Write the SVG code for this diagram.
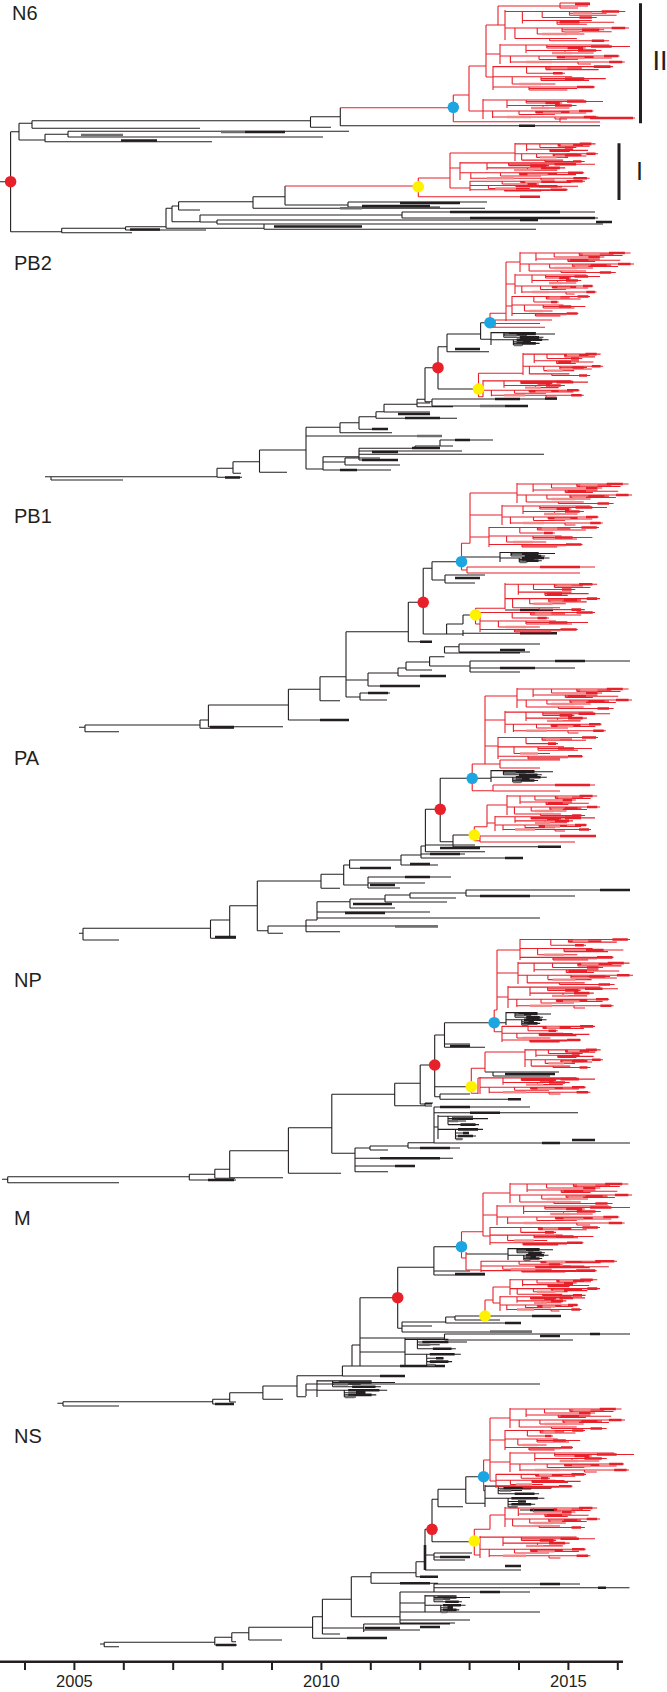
<svg xmlns="http://www.w3.org/2000/svg" width="667" height="1692" viewBox="0 0 667 1692">
<style>
.k{fill:none;stroke:#231f20;stroke-width:1.1;vector-effect:non-scaling-stroke}
.kt{fill:none;stroke:#231f20;stroke-width:2.6;vector-effect:non-scaling-stroke}
.gt{fill:none;stroke:#6d6d6d;stroke-width:2.6;vector-effect:non-scaling-stroke}
.r{fill:none;stroke:#e8202a;stroke-width:1.1;vector-effect:non-scaling-stroke}
.rt{fill:none;stroke:#e8202a;stroke-width:2.6;vector-effect:non-scaling-stroke}
.rp{fill:none;stroke:#f28a8a;stroke-width:2.4;vector-effect:non-scaling-stroke}
.lbl{font-family:"Liberation Sans",Arial,sans-serif;font-size:20px;fill:#231f20}
.yr{font-family:"Liberation Sans",Arial,sans-serif;font-size:16.5px;fill:#231f20;text-anchor:middle}
.dr{fill:#e8202a}.db{fill:#1ba6e1}.dy{fill:#fff200}
</style>
<defs>
<g id="RA">
<path class="r" d="M0 0V20M0 1H14V9M14 1H30V5M30 1H52V3.5M52 1H97M52 2.2H82M52 3.5H90M30 5H74M14 7H42V9.5M42 7H70M42 8.2H88M42 9.5H66M0 12H8V19M8 12H26V16M26 12H46V14.5M46 12H100M46 13.2H80M46 14.5H86M26 16H64M8 19H36V20.5M36 19H58M36 20.5H84"/>
<path class="rt" d="M78 1H92M62 13.2H76M70 20.5H80M86 12H97M44 8.2H60M60 5H70"/>
<path class="rp" d="M55 2.2H70M48 14.5H60M30 16H50"/>
</g>
<g id="RB">
<path class="r" d="M0 0V20M0 1H20V9M20 1H36V4M36 1H84M36 2.5H100M36 4H66M20 6.5H50V9M50 6.5H78M50 9H72M0 12H8V19M8 12H30V15.5M30 12H44V14M44 12H92M44 13H72M44 14H86M30 15.5H60M8 18H60V20M60 18H96M60 20H70"/>
<path class="rt" d="M70 2.5H86M80 12H91M52 4H64M84 18H94M60 6.5H74"/>
<path class="rp" d="M40 9H55M50 14H65M20 18H40"/>
</g>
<g id="RC">
<path class="r" d="M0 0V20M0 0.5H28V6M28 0.5H44V3M44 0.5H100M44 1.8H74M44 3H88M28 6H60M0 9H16V15M16 9H40V12M40 9H66M40 10.5H94M40 12H80M16 15H52M0 17.5H30V20M30 17.5H85M30 18.8H70M30 20H62"/>
<path class="rt" d="M84 0.5H98M60 10.5H76M70 17.5H84M50 6H58"/>
<path class="rp" d="M48 1.8H62M22 15H40"/>
</g>
<g id="KA">
<path class="k" d="M0 0V20M0 1H20V8M20 1H70M20 3H100M20 5H56M20 8H82M0 12H35V20M35 12H90M35 15H62M35 17.5H76M35 20H50"/>
<path class="kt" d="M28 3H70M45 8H75M50 15H62M40 12H80M40 17.5H70"/>
<path class="gt" d="M22 5H40M36 20H48"/>
</g>
</defs>
<rect width="667" height="1692" fill="#fff"/>

<g id="tree-N6">
<text class="lbl" x="12" y="20">N6</text>
<path class="k" d="M0 181.7H10.6M10.6 131.7V231.7M10.6 131.7H19M19 123.3V140M19 123.3H32M32 120.7V128.3M32 120.7H310.5M32 128.3H200M310.5 116.7V127.3M310.5 116.7H340.3M310.5 127.3H331M340.3 107.7V125.7M340.3 125.7H600M19 140H45M45 134.3V141.7M45 141.7H212M45 134.3H68M68 131.3V137M68 131.3H349M68 137H323M10.6 231.7H61.7M61.7 228.3V232.7M61.7 228.3H125.5M61.7 232.7H132M125.5 226.7V230M125.5 226.7H166M125.5 230H206M166 208.3V228.3M166 228.3H264M264 224V229.3M264 224H603M264 229.3H536M166 208.3H172M172 206V221.7M172 206H178.6M178.6 201.7V210M178.6 210H200M178.6 201.7H253M253 196.7V208.3M253 208.3H485M253 196.7H285M285 186V205M285 205H348M348 202V207M348 202H487M348 207H440M172 221.7H200M200 215V222M200 215H402M402 212V218M402 212H595M402 218H598M200 222H217M217 220V224M217 220H538M217 224H300"/>
<path class="kt" d="M121 140.5H157M245 132H285M519 125.7H535M274 226.5H362M596 222H612M362 206H430M400 203H460M450 212H560M470 218H595M520 220H538M130 229.5H160"/>
<path class="gt" d="M81 135H123M221 132H245M340 208.3H362"/>
<path class="r" d="M340.3 107.7H453.3M285 186H418.3M453.3 95V121.7M453.3 121.7H560M560 118V122M560 118H635M560 122H600M453.3 95H469M469 66V111M469 111H483M469 66H486M486 25V77M486 25H505M486 54H500M486 77H493M498 25V6M498 6H560M560 3V8M560 3H590M560 6H588M560 8H578M418.3 178V196.7M418.3 196.7H540M418.3 178H450M450 153V188M450 153H515M450 168H460M450 188H470"/>
<path class="rt" d="M590 118H633M575 4H590M520 196.7H540"/>
<use href="#RB" transform="translate(483 99) scale(1.2 1)"/>
<use href="#RA" transform="translate(505 10) scale(1.24 1.5)"/>
<use href="#RB" transform="translate(500 44) scale(1.3 1)"/>
<use href="#RC" transform="translate(493 66) scale(1.2 1.2)"/>
<use href="#RA" transform="translate(515 143) scale(0.83 0.9)"/>
<use href="#RB" transform="translate(460 162) scale(1.35 0.9)"/>
<use href="#RC" transform="translate(470 181) scale(1.15 0.5)"/>
<path d="M640.5 3.3V123.3M619 143.3V200" fill="none" stroke="#231f20" stroke-width="3"/>
<text x="652.5" y="70" style="font-family:'Liberation Sans',Arial,sans-serif;font-size:27px;fill:#231f20">II</text>
<text x="636" y="180" style="font-family:'Liberation Sans',Arial,sans-serif;font-size:25px;fill:#231f20">I</text>
<circle class="dr" cx="10.6" cy="181.7" r="5.8"/>
<circle class="db" cx="453.3" cy="107.3" r="5.8"/>
<circle class="dy" cx="418.3" cy="186.7" r="5.8"/>
</g>

<g id="tree-PB2">
<text class="lbl" x="14" y="270">PB2</text>
<path class="k" d="M45 476.7H51M51 476.7V480M51 476.7H217M51 480H123M217 468.3V477.3M217 477.3H242M217 468.3H233M233 461.7V473.3M233 473.3H241M233 461.7H259.5M259.5 450V472.3M259.5 472.3H287M259.5 450H306M306 427.3V469M306 436H442M306 469H323M323 456.7V470M323 470H391M323 462H345M345 458V465M345 465H400M345 458H380M323 456.7H359M359 448.3V460M359 448.3H415M359 451H462M359 454.3H544M359 460H398M415 446V448.3M415 446H453M440 440V446M440 440H493M306 427.3H340M340 422.7V432.7M340 432.7H392M340 422.7H359M359 416.7V429.3M359 429.3H388M359 416.7H376M376 411.7V418.3M376 418.3H457M376 411.7H384M384 404.3V412M384 412H430M384 404.3H417M417 399.3V406.7M417 406.7H453M417 403H430M417 399.3H425M425 367.7V401.7M425 401.7H432M432 399V406M432 399H557M432 406H528M425 367.7H438M438 346.7V389M438 346.7H447M447 334V351.7M447 351.7H489M447 334H480.6M480.6 322.7V339.3M480.6 339.3H491M480.6 322.7H490M438 389H478.5"/>
<path class="kt" d="M225 477.5H240M372 452H398M412 448H440M362 460H398M340 470H357M455 440H470M372 429H388M405 418H440M398 414H430M495 399H520M505 406H528M545 398.5H557M455 349H480"/>
<path class="gt" d="M417 436H442M480 406H505"/>
<use href="#KA" transform="translate(491 332) scale(0.64 0.65)"/>
<path class="r" d="M490 313.3V327.3M490 327.3H545M495 320V327.3M495 320H552M495 323.5H540M490 313.3H506M506 262V321M506 262H520M506 284H515M506 306H512M478.5 373.3V396.7M478.5 373.3H523M478.5 396.7H483"/>
<use href="#RA" transform="translate(520 252) scale(1.14 1)"/>
<use href="#RB" transform="translate(515 274) scale(0.85 1)"/>
<use href="#RC" transform="translate(512 296) scale(0.78 1)"/>
<use href="#RA" transform="translate(523 353) scale(0.8 1.1)"/>
<use href="#RB" transform="translate(483 380) scale(1.05 0.85)"/>
<circle class="dr" cx="438" cy="367.7" r="5.8"/>
<circle class="db" cx="490" cy="322.7" r="5.8"/>
<circle class="dy" cx="478.5" cy="389" r="5.8"/>
</g>

<g id="tree-PB1">
<text class="lbl" x="14" y="523">PB1</text>
<path class="k" d="M79 727.3H85M85 725V731.7M85 725H200M85 731.7H119M200 720V728.3M200 728.3H234M200 720H208.4M208.4 705V726.7M208.4 726.7H283M208.4 705H288.4M288.4 689.3V720M288.4 720H349M288.4 689.3H320M320 676.7V700.7M320 700.7H340M320 676.7H346M346 631.7V697M346 697H360M360 693V700M360 693H390M360 700H387M346 680H368M368 673V686M368 686H420M368 673H398M398 668V676M398 676H446M398 668H406M406 662V670M406 670H432M406 662H429.6M429.6 656.7V666M429.6 666H470M429.6 656.7H444.5M444.5 646.7V653M444.5 646.7H459M459 644V652M459 644H540M459 652H530M444.5 653H520M470 661V672M470 661H630M470 668H575M470 672H520M346 631.7H408.3M408.3 602.3V641.7M408.3 641.7H432M408.3 602.3H423.2M423.2 568.3V634M423.2 568.3H432M432 561.7V580M432 580H445M445 575V583M445 575H485M445 583H475M432 561.7H461.5M461.5 557H500M423.2 634H446.6M446.6 624V634M446.6 634H463M463 630V636M463 633.3H557M446.6 624H463M463 615V624M463 615H475.5M505 610H553"/>
<path class="kt" d="M210 727H234M320 720H349M368 693H388M500 650H525M555 661H585M500 668H535M420 641.7H432M455 578H480M520 633.3H557M520 610H553M380 686H420M420 676H446"/>
<use href="#KA" transform="translate(500 552) scale(0.55 0.5)"/>
<path class="r" d="M461.5 543.3V570M461.5 570H467M467 567V573M467 567H595M467 573H580M461.5 543.3H470M470 493V543.3M470 493H517M470 515H502M470 537H489M475.5 608.3V624M475.5 608.3H505M475.5 624H480"/>
<path class="rt" d="M540 567H580"/>
<use href="#RA" transform="translate(517 483) scale(1.15 1)"/>
<use href="#RB" transform="translate(502 505) scale(1.05 1)"/>
<use href="#RC" transform="translate(489 527) scale(1.1 1)"/>
<use href="#RA" transform="translate(505 583) scale(0.95 1.3)"/>
<use href="#RC" transform="translate(480 612) scale(1.15 1)"/>
<circle class="dr" cx="423.2" cy="602.3" r="5.8"/>
<circle class="db" cx="461.5" cy="561.7" r="5.8"/>
<circle class="dy" cx="475.5" cy="615" r="5.8"/>
</g>

<g id="tree-PA">
<text class="lbl" x="14" y="765">PA</text>
<path class="k" d="M79 933.3H83M83 928.3V940M83 928.3H210.5M83 940H119M210.5 920V938.3M210.5 938.3H236M210.5 920H229.7M229.7 905.7V936.7M229.7 936.7H236M229.7 905.7H257.3M257.3 881V930.7M257.3 930.7H268M268 926V933.3M268 933.3H283M268 926H306M306 920V931.7M306 931.7H340M306 926H438M306 920H317M317 901.7V920M317 901.7H350M350 899V908M350 899H385M385 895V902M385 895H410M410 893V898M410 893H466M466 890V896M466 890H630M466 896H575M410 898H456M385 902H447M350 908H395M317 912H430M317 918H540M257.3 881H321M321 874.3V888.3M321 888.3H340M321 874.3H343.7M343.7 865V885M343.7 885H368M368 877V888M368 877H451M368 883H425M368 888H400M343.7 865H349.6M349.6 860V868.3M349.6 868.3H391M349.6 860H401M401 855V865M401 865H438M401 855H421M421 846V858M421 858H523M421 854H465M421 846H425.4M425.4 809.3V851.7M425.4 851.7H485M425.4 845H475M425.4 809.3H440.2M440.2 778.3V841.7M440.2 778.3H472.2M472.2 778.3H491M440.2 841.7H453M453 835V846.7M453 846.7H561M453 835H474.3"/>
<path class="kt" d="M215 937H236M353 904H392M345 913H385M405 877H430M370 885H395M360 868H391M410 864H430M505 858H523M430 854H460M440 848H480M538 846.7H561M480 896H530M600 890H630"/>
<path class="gt" d="M395 926.5H438"/>
<use href="#KA" transform="translate(491 770) scale(0.62 0.6)"/>
<path class="r" d="M472.2 764V790.7M472.2 790.7H493M493 785V791M493 785H595M493 791H560M472.2 764H485M485 696V764M485 696H517M485 720H505M485 746H498M485 764H500M500 760V768M500 760H560M500 768H540M474.3 826.7V840.7M474.3 826.7H487M487 805V826.7M487 805H507M487 823H495M474.3 840.7H480M480 836V842M480 836H596M480 842H575"/>
<path class="rt" d="M555 785H590M560 836H596"/>
<use href="#RA" transform="translate(517 688) scale(1.15 1)"/>
<use href="#RB" transform="translate(505 711) scale(1.05 1.1)"/>
<use href="#RC" transform="translate(498 737) scale(1 1.1)"/>
<use href="#RA" transform="translate(507 795) scale(0.93 1)"/>
<use href="#RB" transform="translate(495 816) scale(1 0.75)"/>
<circle class="dr" cx="440.2" cy="809.3" r="5.8"/>
<circle class="db" cx="472.2" cy="778.3" r="5.8"/>
<circle class="dy" cx="474.3" cy="835" r="5.8"/>
</g>

<g id="tree-NP">
<text class="lbl" x="14" y="987">NP</text>
<path class="k" d="M2 1179.3H7.7M7.7 1176.7V1182.7M7.7 1176.7H189.3M7.7 1182.7H119M189.3 1174.3V1180M189.3 1180H236M189.3 1174.3H214.8M214.8 1169.3V1178.3M214.8 1178.3H235M214.8 1169.3H229.7M229.7 1150.7V1177.7M229.7 1177.7H283M229.7 1150.7H288.4M288.4 1127.7V1173.3M288.4 1173.3H341M288.4 1127.7H331.8M331.8 1094.3V1153.3M331.8 1153.3H355M355 1148V1171.7M355 1171.7H388M355 1166H415M355 1158.3H453M355 1148H370M370 1146V1150M370 1150H388M370 1146H408M408 1142.7V1148M408 1148H460M408 1142.7H434M434 1107V1143M434 1107H530M434 1112.7H578M434 1143H630M434 1127H438M331.8 1094.3H394.7M394.7 1083.3V1105.7M394.7 1105.7H425M425 1103V1106M425 1103H433M425 1106H432M394.7 1083.3H420.2M420.2 1065V1104M420.2 1104H432M420.2 1065H434.7M434.7 1035V1096.7M434.7 1035H444.5M444.5 1022.7V1047.3M444.5 1047.3H485M444.5 1044H470M444.5 1022.7H494.2M494.2 1022.7H506M434.7 1086.7H471.3M434.7 1096.7H440M440 1094V1099.3M440 1099.3H521M440 1094H470M485 1072H493M493 1072V1076M493 1072H559M493 1076H550"/>
<path class="kt" d="M208 1180H234M380 1158.3H440M395 1166H415M420 1148H450M542 1143H560M572 1140H595M450 1046H470M508 1099.3H521M505 1074H555M440 1107H470M470 1112.7H500"/>
<use href="#KA" transform="translate(438 1115) scale(0.5 1.2)"/>
<use href="#KA" transform="translate(506 1012) scale(0.45 0.65)"/>
<path class="r" d="M494.2 1010V1031.7M494.2 1031.7H502M494.2 1010H497M497 950V1010M497 950H520M497 973H518M497 997H508M471.3 1068.3V1093.3M471.3 1068.3H485M485 1052V1072M485 1052H525M471.3 1093.3H478M478 1078V1094M478 1078H480"/>
<use href="#RC" transform="translate(520 939) scale(1.1 1.05)"/>
<use href="#RA" transform="translate(518 962) scale(1.15 1.1)"/>
<use href="#RB" transform="translate(508 986) scale(1.1 1.1)"/>
<use href="#RC" transform="translate(502 1026) scale(0.93 0.8)"/>
<use href="#RA" transform="translate(525 1049) scale(0.78 0.9)"/>
<use href="#RB" transform="translate(480 1077) scale(1.15 0.85)"/>
<circle class="dr" cx="434.7" cy="1065" r="5.8"/>
<circle class="db" cx="494.2" cy="1022.7" r="5.8"/>
<circle class="dy" cx="471.3" cy="1086.7" r="5.8"/>
</g>

<g id="tree-M">
<text class="lbl" x="14" y="1225">M</text>
<path class="k" d="M57.4 1403.3H63M63 1401.7V1406M63 1401.7H212.7M63 1406H119M212.7 1399.3V1404M212.7 1404H234M212.7 1399.3H229.7M229.7 1392.7V1402M229.7 1402H236M229.7 1392.7H262.9M262.9 1386V1399.3M262.9 1399.3H283M262.9 1386H297M297 1375.7V1396.7M297 1396.7H306M306 1384V1396M306 1384H540M306 1390H317M297 1375.7H342.4M342.4 1366V1376M342.4 1376H405M342.4 1366H352M352 1345V1366M352 1366H445M352 1345H360M360 1297.7V1366M360 1297.7H397.7M360 1338H444.5M444.5 1334V1340M444.5 1334H630M444.5 1340H573M360 1352H405M360 1366H420M397.7 1267.3V1328.3M397.7 1267.3H433.9M433.9 1246.7V1275M433.9 1275H485M433.9 1271H470M433.9 1246.7H461.5M466 1254H508M397.7 1328.3H402M402 1322V1332M402 1332H532M402 1326H432M402 1322H445.7M445.7 1317V1323M445.7 1323H521M445.7 1317H455M455 1316V1320M455 1316H485M455 1320H500M485 1316H561"/>
<path class="kt" d="M215 1404H234M380 1376H405M400 1366H445M540 1336H560M590 1334H600M455 1274H485M505 1323H521M532 1316H561"/>
<path class="gt" d="M490 1331.5H532"/>
<use href="#KA" transform="translate(317 1380) scale(0.78 0.85)"/>
<use href="#KA" transform="translate(405 1338) scale(0.62 1.35)"/>
<use href="#KA" transform="translate(508 1248) scale(0.45 0.6)"/>
<path class="r" d="M461.5 1231.7V1258M461.5 1258H466M466 1252V1270M466 1270H481M461.5 1231.7H483M483 1193V1236M483 1193H510M483 1215H497M483 1236H490M485 1300V1316M485 1300H493M493 1287V1303M493 1287H510M493 1303H500"/>
<use href="#RA" transform="translate(510 1183) scale(1.22 1)"/>
<use href="#RB" transform="translate(497 1205) scale(1.33 1)"/>
<use href="#RC" transform="translate(490 1227) scale(1.1 0.9)"/>
<use href="#RC" transform="translate(481 1261) scale(1.36 0.55)"/>
<use href="#RA" transform="translate(510 1279) scale(0.9 0.8)"/>
<use href="#RB" transform="translate(500 1296) scale(0.85 0.75)"/>
<circle class="dr" cx="397.7" cy="1297.7" r="5.8"/>
<circle class="db" cx="461.5" cy="1246.7" r="5.8"/>
<circle class="dy" cx="485" cy="1316" r="5.8"/>
</g>

<g id="tree-NS">
<text class="lbl" x="14" y="1443">NS</text>
<path class="k" d="M100 1644H104.2M104.2 1642.3V1646.7M104.2 1642.3H214.8M104.2 1646.7H119M214.8 1637.3V1645M214.8 1645H237M214.8 1637.3H231.8M231.8 1632.7V1641.7M231.8 1641.7H236M231.8 1632.7H248.8M248.8 1627.3V1640M248.8 1640H282M248.8 1627.3H312.6M312.6 1616.7V1638.3M312.6 1638.3H387M312.6 1616.7H322.4M322.4 1599.3V1634M322.4 1634H340M322.4 1628H363.7M363.7 1624V1632M363.7 1624H450M363.7 1630H420M322.4 1599.3H351.3M351.3 1576.7V1616.7M351.3 1616.7H400M400 1592V1623M400 1623H455M400 1620H470M400 1603H425M400 1592H434M434 1584V1592M434 1587.7H629.5M434 1584H580M434 1592H530M400 1612H540M351.3 1576.7H371M371 1572.7V1583.3M371 1583.3H438M371 1572.7H416M416 1561.7V1576.7M416 1576.7H438M416 1561.7H425M425 1529.3V1570M425 1570H521M425 1555H434M434 1553V1560M434 1553H472M434 1560H465M434 1557H458M425 1529.3H432M432 1499.3V1541.7M432 1541.7H474.3M432 1499.3H438M438 1489.3V1506.7M438 1506.7H463M438 1489.3H465.8M465.8 1476.7V1503.3M465.8 1503.3H485M465.8 1476.7H483.6M483.6 1490.7H485M520 1510H561"/>
<path class="kt" d="M216 1645H236M347 1638H387M365 1628H400M420 1627H440M540 1584H560M598 1587.7H606M480 1592H500M400 1583.3H430M420 1576.7H438M505 1566H521M440 1557H470M530 1510H561M425 1545V1570"/>
<use href="#KA" transform="translate(425 1595) scale(0.45 0.85)"/>
<use href="#KA" transform="translate(485 1485) scale(0.66 1.1)"/>
<path class="r" d="M483.6 1460V1490.7M483.6 1460H490M490 1418V1481M490 1418H510M490 1440H505M490 1462H510M490 1481H496M474.3 1529.3V1555M474.3 1529.3H490M490 1515V1529.3M490 1515H505M474.3 1555H480"/>
<use href="#RA" transform="translate(510 1408) scale(1.15 1)"/>
<use href="#RC" transform="translate(505 1430) scale(0.8 1)"/>
<use href="#RB" transform="translate(510 1452) scale(1.24 1)"/>
<use href="#RC" transform="translate(496 1474) scale(0.9 0.7)"/>
<use href="#RA" transform="translate(505 1507) scale(0.95 1)"/>
<use href="#RB" transform="translate(480 1536) scale(1.15 1.1)"/>
<circle class="dr" cx="432" cy="1529.3" r="5.8"/>
<circle class="db" cx="483.6" cy="1476.7" r="5.8"/>
<circle class="dy" cx="474.3" cy="1541" r="5.8"/>
</g>

<g id="axis">
<path d="M0 1661.7H623" fill="none" stroke="#231f20" stroke-width="2.5"/>
<path d="M25 1661V1670M74.4 1661V1670M123.8 1661V1670M173.2 1661V1670M222.6 1661V1670M272 1661V1670M321.4 1661V1670M370.8 1661V1670M420.2 1661V1670M469.6 1661V1670M519 1661V1670M568.4 1661V1670M617.8 1661V1670" fill="none" stroke="#231f20" stroke-width="2"/>
<text class="yr" x="74.4" y="1687">2005</text>
<text class="yr" x="321.4" y="1687">2010</text>
<text class="yr" x="568.4" y="1687">2015</text>
</g>
</svg>
